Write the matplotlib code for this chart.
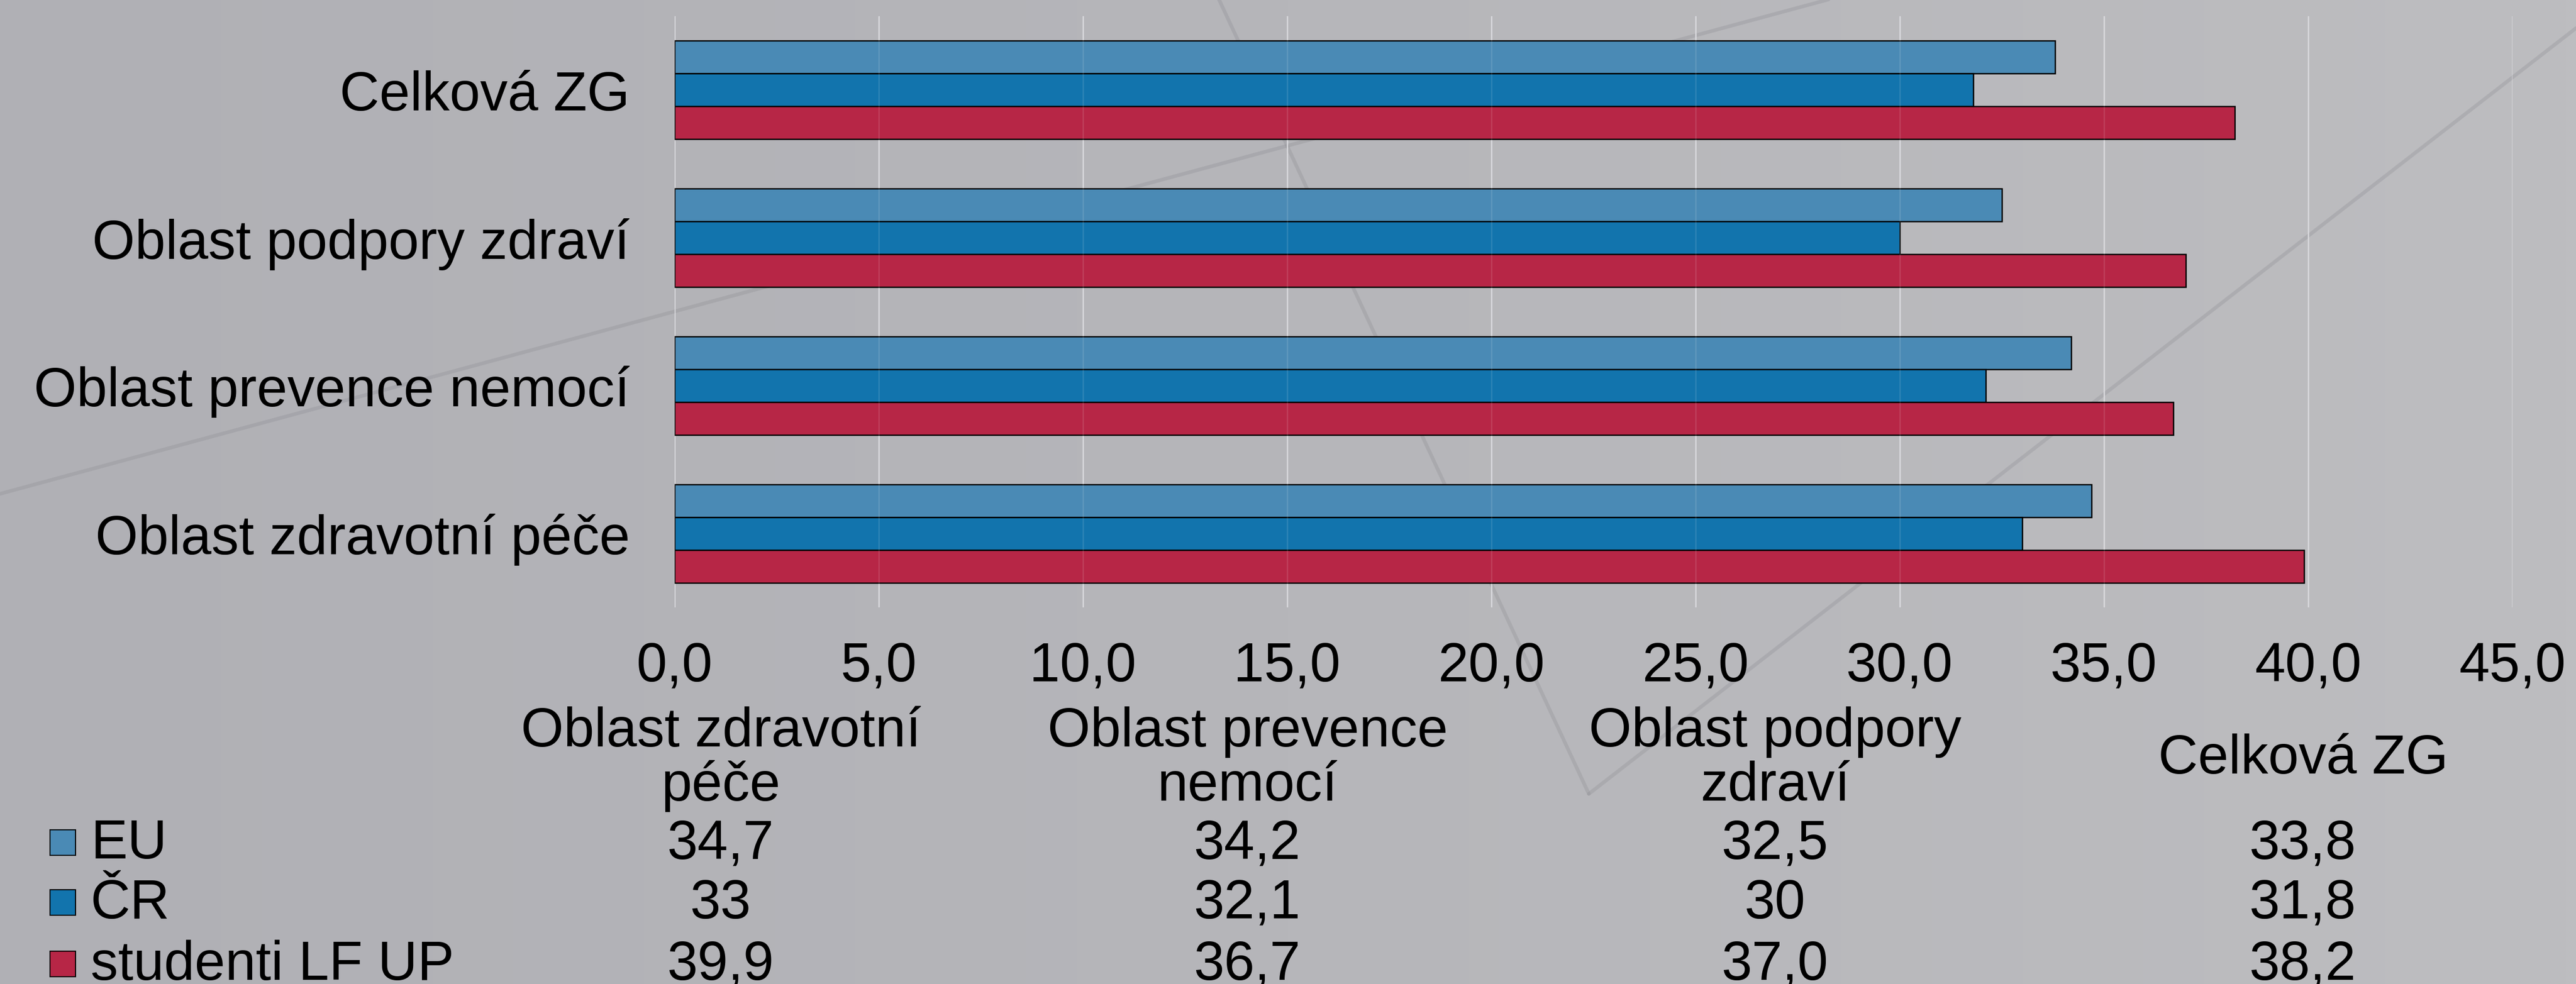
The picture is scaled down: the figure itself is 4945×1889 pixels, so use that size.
import numpy as np
import matplotlib
matplotlib.use("Agg")
import matplotlib.pyplot as plt
from matplotlib.patches import Rectangle

plt.rcParams['font.family'] = ['Liberation Sans', 'DejaVu Sans']

# data (table order = bottom to top in the bar chart)
categories = ["Oblast zdravotní péče", "Oblast prevence nemocí",
              "Oblast podpory zdraví", "Celková ZG"]
table_headers = ["Oblast zdravotní\npéče", "Oblast prevence\nnemocí",
                 "Oblast podpory\nzdraví", "Celková ZG"]
series_names = ["EU", "ČR", "studenti LF UP"]
eu = [34.7, 34.2, 32.5, 33.8]
cr = [33.0, 32.1, 30.0, 31.8]
studenti = [39.9, 36.7, 37.0, 38.2]
eu_txt = ["34,7", "34,2", "32,5", "33,8"]
cr_txt = ["33", "32,1", "30", "31,8"]
studenti_txt = ["39,9", "36,7", "37,0", "38,2"]
xticks = [0, 5, 10, 15, 20, 25, 30, 35, 40, 45]

colors = ["#4a8ab5", "#1274ad", "#b72646"]

W, H = 4945, 1890
fig = plt.figure(figsize=(W / 100, H / 100), dpi=100)

# background: soft grey gradient + faint decorative lines
bg = fig.add_axes([0, 0, 1, 1], zorder=-10)
grad = np.linspace(0, 1, 256)[None, :]
cmap = matplotlib.colors.LinearSegmentedColormap.from_list("bg", ["#b0b0b5", "#b6b6ba", "#bdbdc0"])
bg.imshow(grad, extent=[0, W, H, 0], aspect="auto", cmap=cmap)
bg.set_xlim(0, W)
bg.set_ylim(H, 0)
bg.axis("off")
for (x0, y0, x1, y1) in [(0, 949, 3510, 0), (2340, 0, 3050, 1525), (3050, 1525, 4945, 55)]:
    bg.plot([x0, x1], [y0, y1], color="#8c8c92", lw=5, alpha=0.3, solid_capstyle="round")

# bar chart
ax = fig.add_axes([1295 / W, 1 - 1167 / H, (4823 - 1295) / W, (1167 - 32) / H])
ax.patch.set_alpha(0)
y = np.arange(len(categories))
h = 0.222
for vals, off, c in zip([eu, cr, studenti], [h, 0, -h], colors):
    ax.barh(y + off, vals, height=h, color=c, edgecolor="black", linewidth=1.8, zorder=3)

ax.set_xlim(0, 45)
ax.set_ylim(-0.5, len(categories) - 0.5)
ax.set_xticks(xticks)
ax.set_xticklabels([f"{t:.1f}".replace(".", ",") for t in xticks])
ax.set_yticks(y)
ax.set_yticklabels(categories)
ax.tick_params(axis="y", length=0, pad=62, labelsize=76)
ax.tick_params(axis="x", length=0, pad=46, labelsize=76)
ax.grid(axis="x", color="#d6d6da", lw=1.8, zorder=1)
ax.vlines(xticks, -0.5, len(categories) - 0.5, color="white", lw=1.8, alpha=0.12, zorder=4)
for s in ax.spines.values():
    s.set_visible(False)

# data table under the chart
col_x = [1384, 2395, 3408, 4421]
for cx, head in zip(col_x, table_headers):
    lines = head.split("\n")
    if len(lines) == 2:
        bg.text(cx, 1433, lines[0], ha="center", va="baseline", fontsize=76)
        bg.text(cx, 1537, lines[1], ha="center", va="baseline", fontsize=76)
    else:
        bg.text(cx, 1485, lines[0], ha="center", va="baseline", fontsize=76)

row_base = [1648, 1763, 1881]
for rb, name, txts, c in zip(row_base, series_names, [eu_txt, cr_txt, studenti_txt], colors):
    bg.add_patch(Rectangle((96, rb - 54), 49, 49, facecolor=c, edgecolor="black", lw=1.5))
    bg.text(174, rb, name, ha="left", va="baseline", fontsize=76)
    for cx, t in zip(col_x, txts):
        bg.text(cx, rb, t, ha="center", va="baseline", fontsize=76)

fig.savefig("out.png", dpi=100)
